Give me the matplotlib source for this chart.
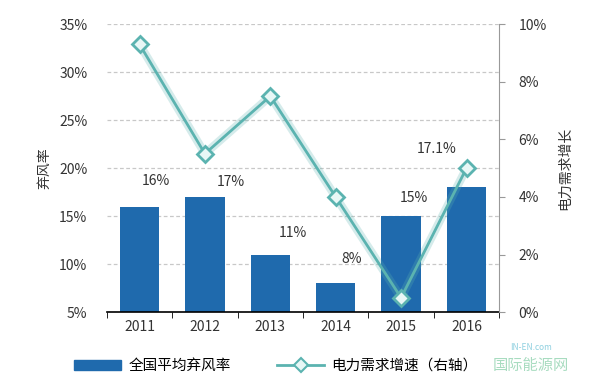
import numpy as np
import matplotlib.pyplot as plt
from matplotlib.ticker import FuncFormatter
from matplotlib.lines import Line2D
from matplotlib.patches import Patch

plt.rcParams['font.family'] = ['Noto Sans CJK SC', 'DejaVu Sans']

# datos
years = ['2011', '2012', '2013', '2014', '2015', '2016']
curtail = [16, 17, 11, 8, 15, 18]          # 全国平均弃风率 (%)
curtail_labels = ['16%', '17%', '11%', '8%', '15%', '17.1%']
demand = [9.3, 5.5, 7.5, 4.0, 0.5, 5.0]     # 电力需求增速 (%)

bar_color = '#1f6aad'
line_color = '#5bb3b0'
text_color = '#333333'

fig = plt.figure(figsize=(6, 3.83), dpi=100)
ax = fig.add_axes([0.178, 0.185, 0.654, 0.752])
x = np.arange(len(years))

ax.bar(x, curtail, width=0.6, color=bar_color, zorder=2)
ax.set_ylim(5, 35)
ax.set_xlim(-0.5, len(years) - 0.5)
ax.set_yticks(range(5, 36, 5))
ax.yaxis.set_major_formatter(FuncFormatter(lambda v, p: '%d%%' % v))
ax.grid(axis='y', linestyle=(0, (3, 2)), color='#c8c8c8', linewidth=0.9, zorder=0)
ax.set_xticks(x)
ax.set_xticklabels(years)
ax.set_xticks(np.arange(-0.5, len(years)), minor=True)
ax.tick_params(axis='x', which='major', length=0, pad=6, labelsize=10, colors=text_color)
ax.tick_params(axis='x', which='minor', length=4, direction='out', color='black')
ax.tick_params(axis='y', length=0, pad=14, labelsize=10, colors=text_color)
for s in ['top', 'left', 'right']:
    ax.spines[s].set_visible(False)
ax.spines['bottom'].set_linewidth(1.2)
ax.set_ylabel('弃风率', fontsize=10, color=text_color, labelpad=6)

# etiquetas de las barras
offsets = [0.25, 0.4, 0.35, 0.25, 0.2, -0.45]
lifts = [2.7, 1.6, 2.2, 2.5, 1.9, 4.0]
for i in range(len(years)):
    ax.text(x[i] + offsets[i], curtail[i] + lifts[i], curtail_labels[i],
            ha='center', va='center', fontsize=10, color=text_color, zorder=5)

ax2 = ax.twinx()
ax2.set_ylim(0, 10)
ax2.set_yticks(range(0, 11, 2))
ax2.yaxis.set_major_formatter(FuncFormatter(lambda v, p: '%d%%' % v))
ax2.plot(x, demand, color=line_color, linewidth=6, alpha=0.25, zorder=3)
ax2.plot(x, demand, color=line_color, linewidth=2, marker='D', markersize=8,
         markerfacecolor='#e8f7f6', markeredgecolor=line_color, markeredgewidth=2, zorder=4)
for s in ['top', 'left', 'bottom']:
    ax2.spines[s].set_visible(False)
ax2.spines['right'].set_color('#999999')
ax2.tick_params(axis='y', length=4, direction='out', color='#999999', pad=10,
                labelsize=10, colors=text_color)
ax2.set_ylabel('电力需求增长', fontsize=10, color=text_color, rotation=90, labelpad=8)

handles = [Patch(color=bar_color),
           Line2D([0], [0], color=line_color, linewidth=2, marker='D', markersize=7,
                  markerfacecolor='#e8f7f6', markeredgecolor=line_color, markeredgewidth=1.5)]
fig.legend(handles, ['全国平均弃风率', '电力需求增速（右轴）'], loc='center',
           bbox_to_anchor=(0.46, 0.045), ncol=2, frameon=False, fontsize=10.5,
           handlelength=3.2, columnspacing=3.2, handletextpad=0.5)

# marca de agua
fig.text(0.885, 0.085, 'IN-EN.com', fontsize=6, color='#8fd0e0', ha='center')
fig.text(0.885, 0.035, '国际能源网', fontsize=11, color='#a8dcc0', ha='center')

fig.savefig('out.png', dpi=100)
